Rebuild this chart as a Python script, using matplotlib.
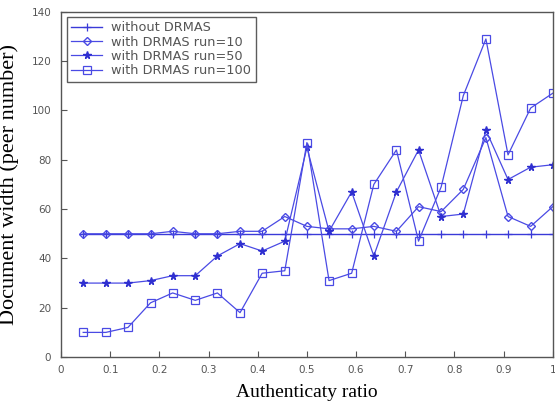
import matplotlib
matplotlib.use("Agg")
import matplotlib.pyplot as plt

ratio = [0.045, 0.091, 0.136, 0.182, 0.227, 0.273, 0.318, 0.364, 0.409, 0.455, 0.5,
         0.545, 0.591, 0.636, 0.682, 0.727, 0.773, 0.818, 0.864, 0.909, 0.955, 1.0]
without_drmas = [50] * 22
run10 = [50, 50, 50, 50, 51, 50, 50, 51, 51, 57, 53, 52, 52, 53, 51, 61, 59, 68, 89, 57, 53, 61]
run50 = [30, 30, 30, 31, 33, 33, 41, 46, 43, 47, 85, 51, 67, 41, 67, 84, 57, 58, 92, 72, 77, 78]
run100 = [10, 10, 12, 22, 26, 23, 26, 18, 34, 35, 87, 31, 34, 70, 84, 47, 69, 106, 129, 82, 101, 107]
labels = ["without DRMAS", "with DRMAS run=10", "with DRMAS run=50", "with DRMAS run=100"]
xticks = [0, 0.1, 0.2, 0.3, 0.4, 0.5, 0.6, 0.7, 0.8, 0.9, 1]
xticklabels = ["0", "0.1", "0.2", "0.3", "0.4", "0.5", "0.6", "0.7", "0.8", "0.9", "1"]
yticks = [0, 20, 40, 60, 80, 100, 120, 140]

blue = "#4a4ae4"
fig = plt.figure(figsize=(5.55, 4.09), dpi=100)
ax = fig.add_axes([0.11, 0.127, 0.886, 0.844])

ax.plot(ratio, without_drmas, color="#3a3ad8", lw=1.0, marker="+", ms=6, mew=0.9, label=labels[0])
ax.plot(ratio, run10, color=blue, lw=0.9, marker="D", ms=4, mfc="none", mec=blue, mew=1.0, label=labels[1])
ax.plot(ratio, run50, color=blue, lw=0.9, marker="*", ms=5.5, mfc="#2f2fd0", mec="#2f2fd0", label=labels[2])
ax.plot(ratio, run100, color=blue, lw=0.9, marker="s", ms=6, mfc="none", mec=blue, mew=0.9, label=labels[3])

ax.set_xlim(0, 1)
ax.set_ylim(0, 140)
ax.set_xticks(xticks)
ax.set_xticklabels(xticklabels)
ax.set_yticks(yticks)
ax.tick_params(direction="in", length=4, width=0.8, colors="#555555", labelsize=7.5,
               top=False, right=False)
ax.tick_params(axis="y", pad=7)
ax.tick_params(axis="x", pad=6)
for s in ax.spines.values():
    s.set_color("#555555")
    s.set_linewidth(1.0)

ax.set_xlabel("Authenticaty ratio", family="Liberation Serif", fontsize=14, labelpad=6)
ax.set_ylabel("Document width (peer number)", family="Liberation Serif", fontsize=16, labelpad=9)

leg = ax.legend(loc="upper left", bbox_to_anchor=(0.006, 0.993), fontsize=9.3, frameon=True,
                fancybox=False, edgecolor="#333333", handlelength=2.4, labelspacing=0.1,
                borderpad=0.35, handletextpad=0.7, borderaxespad=0.2)
leg.get_frame().set_linewidth(1.0)
for t in leg.get_texts():
    t.set_color("#555555")

fig.savefig("out.png", dpi=100)
